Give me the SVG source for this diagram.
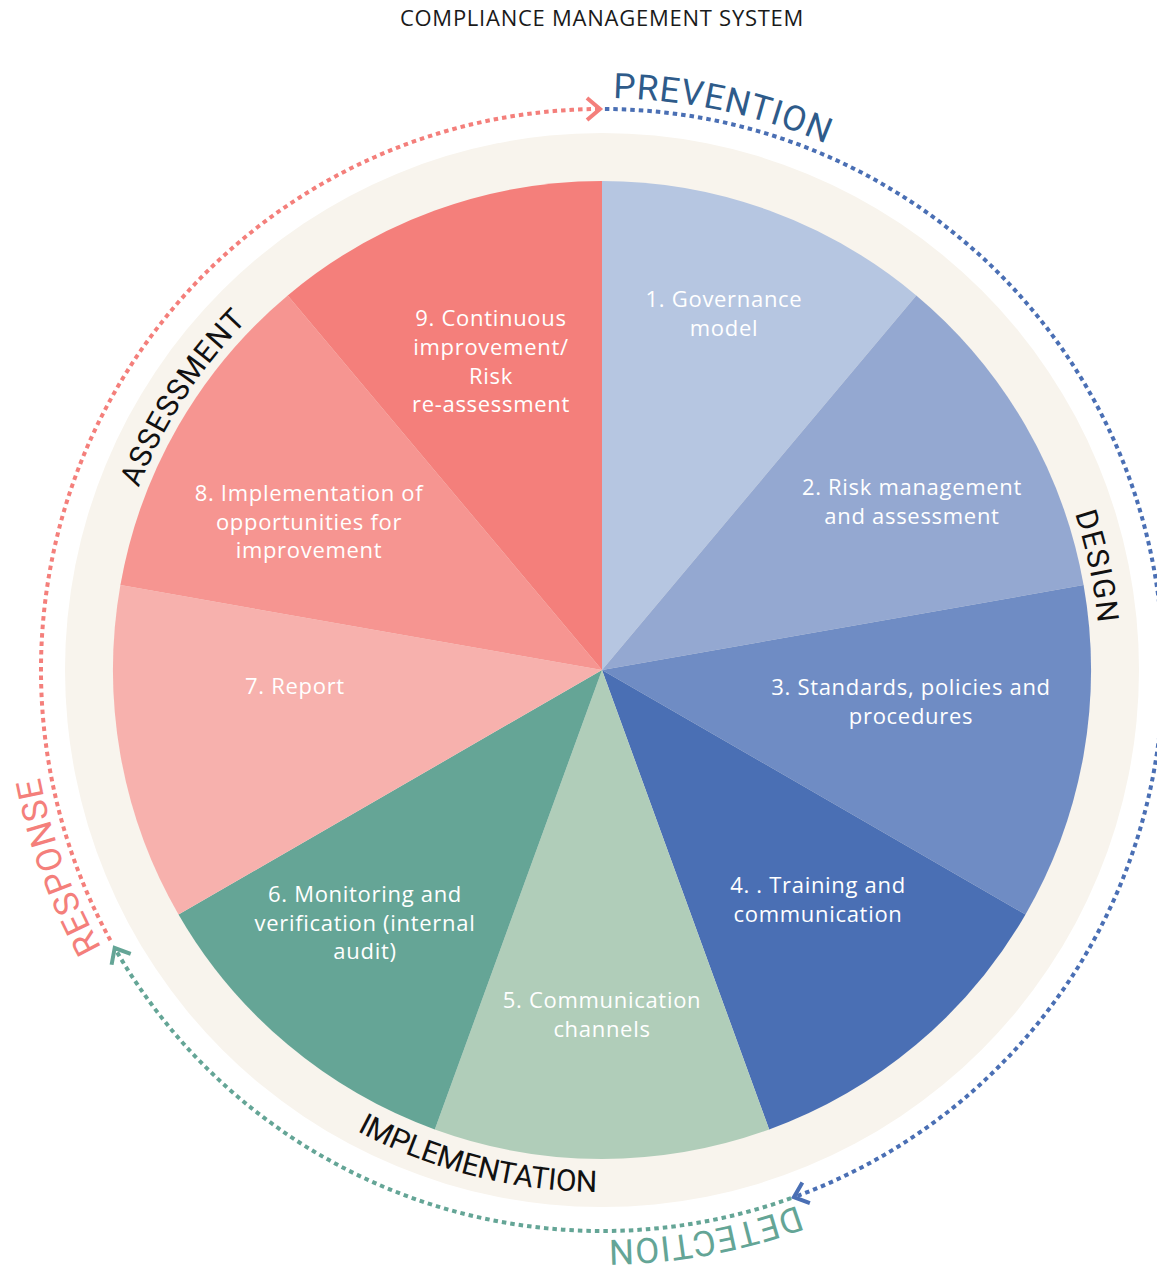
<svg xmlns="http://www.w3.org/2000/svg" width="1157" height="1269" viewBox="0 0 1157 1269">
<style>
  .lbl{font-family:"Open Sans","Liberation Sans",sans-serif;font-size:22px;fill:#ffffff;text-anchor:middle;letter-spacing:0.7px}
  .title{font-family:"Open Sans","Liberation Sans",sans-serif;font-size:22px;fill:#1a1a1a;text-anchor:middle}
  .phase{font-family:Roboto,"Liberation Sans",sans-serif;font-size:30px;fill:#111111}
  .outer{font-family:Roboto,"Liberation Sans",sans-serif;font-size:35px}
  .dots{fill:none;stroke-width:4;stroke-dasharray:4.5 4}
</style>
<defs>
  <path id="outerCW" d="M 602 98 A 572 572 0 1 1 602 1242 A 572 572 0 1 1 602 98"/>
  <path id="outerCWb" d="M 602 100 A 570 570 0 1 1 602 1240 A 570 570 0 1 1 602 100"/>
  <path id="innerCW" d="M 602 172 A 498 498 0 1 1 602 1168 A 498 498 0 1 1 602 172"/>
  <path id="innerCCW" d="M 602 148 A 522 522 0 1 0 602 1192 A 522 522 0 1 0 602 148"/>
  <marker id="arrRed" markerUnits="userSpaceOnUse" orient="auto" refX="0" refY="0" markerWidth="30" markerHeight="30" overflow="visible">
    <path d="M -13 -11 L 0 0 L -13 11" fill="none" stroke="#f47f7b" stroke-width="4"/>
  </marker>
  <marker id="arrBlue" markerUnits="userSpaceOnUse" orient="auto" refX="0" refY="0" markerWidth="30" markerHeight="30" overflow="visible">
    <path d="M -13 -11 L 0 0 L -13 11" fill="none" stroke="#4a6fb4" stroke-width="4"/>
  </marker>
  <marker id="arrGreen" markerUnits="userSpaceOnUse" orient="auto" refX="0" refY="0" markerWidth="30" markerHeight="30" overflow="visible">
    <path d="M -13 -11 L 0 0 L -13 11" fill="none" stroke="#64a596" stroke-width="4"/>
  </marker>
</defs>
<rect width="1157" height="1269" fill="#ffffff"/>
<text class="title" x="602" y="26" letter-spacing="0.75">COMPLIANCE MANAGEMENT SYSTEM</text>

<g id="ring">
  <circle cx="602" cy="670" r="537" fill="#f8f4ed"/>
</g>

<g id="node-1">
  <path d="M 602 670 L 602 181 A 489 489 0 0 1 916.3 295.4 Z" fill="#b6c6e1"/>
  <text class="lbl" x="724" y="307">1. Governance</text>
  <text class="lbl" x="724" y="336">model</text>
</g>
<g id="node-2">
  <path d="M 602 670 L 916.3 295.4 A 489 489 0 0 1 1083.6 585.1 Z" fill="#94a8d1"/>
  <text class="lbl" x="912" y="495">2. Risk management</text>
  <text class="lbl" x="912" y="524">and assessment</text>
</g>
<g id="node-3">
  <path d="M 602 670 L 1083.6 585.1 A 489 489 0 0 1 1025.5 914.5 Z" fill="#6f8cc4"/>
  <text class="lbl" x="911" y="695">3. Standards, policies and</text>
  <text class="lbl" x="911" y="724">procedures</text>
</g>
<g id="node-4">
  <path d="M 602 670 L 1025.5 914.5 A 489 489 0 0 1 769.2 1129.5 Z" fill="#4a6fb4"/>
  <text class="lbl" x="818" y="893">4. . Training and</text>
  <text class="lbl" x="818" y="922">communication</text>
</g>
<g id="node-5">
  <path d="M 602 670 L 769.2 1129.5 A 489 489 0 0 1 434.8 1129.5 Z" fill="#b0cdb9"/>
  <text class="lbl" x="602" y="1008">5. Communication</text>
  <text class="lbl" x="602" y="1037">channels</text>
</g>
<g id="node-6">
  <path d="M 602 670 L 434.8 1129.5 A 489 489 0 0 1 178.5 914.5 Z" fill="#65a596"/>
  <text class="lbl" x="365" y="902">6. Monitoring and</text>
  <text class="lbl" x="365" y="931">verification (internal</text>
  <text class="lbl" x="365" y="959">audit)</text>
</g>
<g id="node-7">
  <path d="M 602 670 L 178.5 914.5 A 489 489 0 0 1 120.4 585.1 Z" fill="#f7b1ad"/>
  <text class="lbl" x="295" y="694">7. Report</text>
</g>
<g id="node-8">
  <path d="M 602 670 L 120.4 585.1 A 489 489 0 0 1 287.7 295.4 Z" fill="#f69591"/>
  <text class="lbl" x="309" y="501">8. Implementation of</text>
  <text class="lbl" x="309" y="530">opportunities for</text>
  <text class="lbl" x="309" y="558">improvement</text>
</g>
<g id="node-9">
  <path d="M 602 670 L 287.7 295.4 A 489 489 0 0 1 602 181 Z" fill="#f47f7b"/>
  <text class="lbl" x="491" y="326">9. Continuous</text>
  <text class="lbl" x="491" y="355">improvement/</text>
  <text class="lbl" x="491" y="384">Risk</text>
  <text class="lbl" x="491" y="412">re-assessment</text>
</g>

<g id="phase-labels">
  <text class="phase"><textPath href="#innerCW" startOffset="623" textLength="112" lengthAdjust="spacing">DESIGN</textPath></text>
  <text class="phase"><textPath href="#innerCW" startOffset="2533" textLength="200" lengthAdjust="spacing">ASSESSMENT</textPath></text>
  <text class="phase"><textPath href="#innerCCW" startOffset="1385" textLength="250" lengthAdjust="spacing">IMPLEMENTATION</textPath></text>
</g>

<g id="connectors">
  <path class="dots" stroke="#4a6fb4" d="M 604.9 109 A 561 561 0 0 1 793.9 1197.2" marker-end="url(#arrBlue)"/>
  <path class="dots" stroke="#64a596" d="M 791.1 1198.2 A 561 561 0 0 1 114.7 948" marker-end="url(#arrGreen)"/>
  <path class="dots" stroke="#f47f7b" d="M 110.4 940.3 A 561 561 0 0 1 600 109" marker-end="url(#arrRed)"/>
</g>

<g id="cycle-labels">
  <text class="outer" fill="#2e5b8a"><textPath href="#outerCW" startOffset="11" textLength="219" lengthAdjust="spacing">PREVENTION</textPath></text>
  <text class="outer" fill="#64a596"><textPath href="#outerCWb" startOffset="1591" textLength="193" lengthAdjust="spacing">DETECTION</textPath></text>
  <text class="outer" fill="#f47f7b"><textPath href="#outerCW" startOffset="2406" textLength="182" lengthAdjust="spacing">RESPONSE</textPath></text>
</g>
</svg>
